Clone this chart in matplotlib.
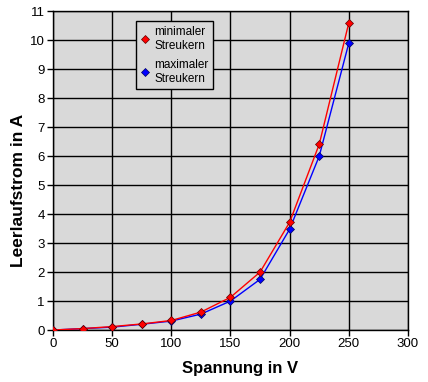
import numpy as np
import matplotlib.pyplot as plt

plt.rcParams['font.family'] = ['Liberation Sans', 'DejaVu Sans']

# Messwerte
spannung = [0, 25, 50, 75, 100, 125, 150, 175, 200, 225, 250]
strom_min = [0, 0.05, 0.12, 0.21, 0.33, 0.62, 1.13, 2.0, 3.72, 6.41, 10.6]
strom_max = [0, 0.05, 0.10, 0.20, 0.31, 0.55, 1.0, 1.75, 3.48, 6.0, 9.9]

fig = plt.figure(figsize=(4.28, 3.82), dpi=100)
ax = fig.add_axes([0.1238, 0.136, 0.8295, 0.835])
ax.set_facecolor('#d9d9d9')

ax.plot(spannung, strom_max, color='blue', lw=1, marker='D', ms=4,
        mfc='blue', mec='#000060', mew=0.5, label='maximaler\nStreukern', zorder=3)
ax.plot(spannung, strom_min, color='red', lw=1, marker='D', ms=4,
        mfc='red', mec='#600000', mew=0.5, label='minimaler\nStreukern', zorder=4)

ax.set_xlim(0, 300)
ax.set_ylim(0, 11)
ax.set_xticks(np.arange(0, 301, 50))
ax.set_yticks(np.arange(0, 12, 1))
ax.grid(True, color='black', lw=1)
ax.set_axisbelow(True)
ax.tick_params(labelsize=9.5, length=4, width=1, color='black', pad=2)
for s in ax.spines.values():
    s.set_color('black')
    s.set_linewidth(1)

ax.set_xlabel('Spannung in V', fontsize=12, fontweight='bold')
ax.set_ylabel('Leerlaufstrom in A', fontsize=12.5, fontweight='bold')
ax.xaxis.set_label_coords(0.528, -0.098)
ax.yaxis.set_label_coords(-0.075, 0.439)

h, l = ax.get_legend_handles_labels()
leg = ax.legend(h[::-1], l[::-1], loc='upper left', bbox_to_anchor=(0.235, 0.968),
                fontsize=8.5, fancybox=False, framealpha=1, edgecolor='black',
                facecolor='#d9d9d9', handlelength=0.6, handletextpad=0.5,
                borderpad=0.4, labelspacing=0.6, borderaxespad=0)
leg.get_frame().set_linewidth(1)
for line in leg.get_lines():
    line.set_linestyle('none')

fig.savefig('out.png', dpi=100)
